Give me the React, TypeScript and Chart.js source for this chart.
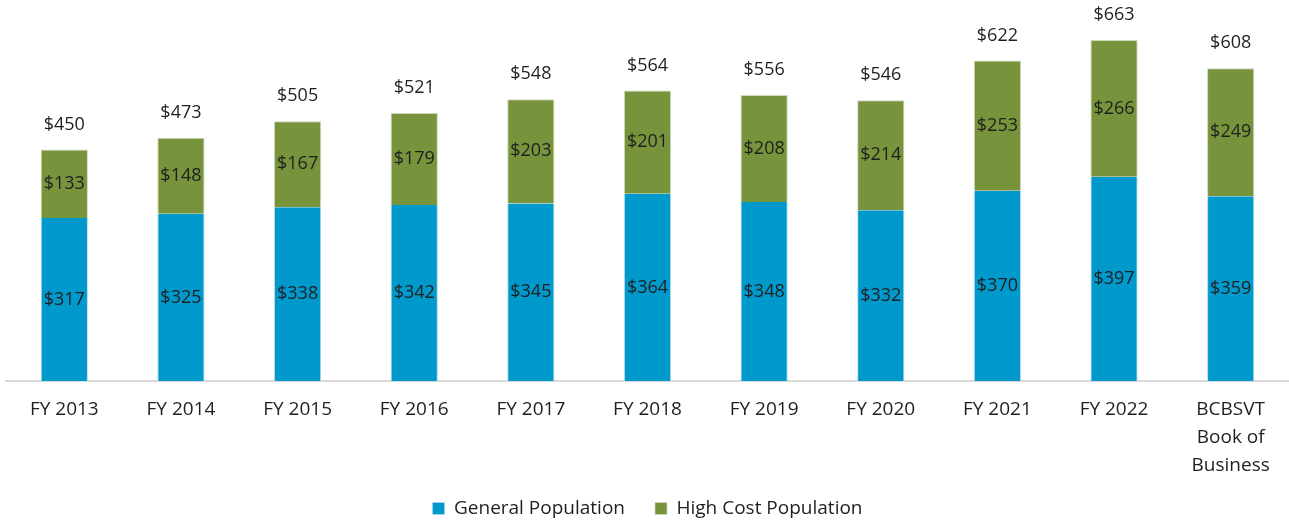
import React, { useEffect, useRef } from "react";
import { Chart, registerables } from "chart.js";

Chart.register(...registerables);

const categories: (string | string[])[] = [
  "FY 2013", "FY 2014", "FY 2015", "FY 2016", "FY 2017", "FY 2018",
  "FY 2019", "FY 2020", "FY 2021", "FY 2022", ["BCBSVT", "Book of", "Business"],
];
const generalPopulation = [317, 325, 338, 342, 345, 364, 348, 332, 370, 397, 359];
const highCostPopulation = [133, 148, 167, 179, 203, 201, 208, 214, 253, 266, 249];
const totals = [450, 473, 505, 521, 548, 564, 556, 546, 622, 663, 608];

const FONT = "'Open Sans', sans-serif";
const TEXT = "#1f1f1f";

const labelPlugin = {
  id: "barLabels",
  afterDatasetsDraw(chart: any) {
    const ctx = chart.ctx;
    ctx.save();
    ctx.font = `18px ${FONT}`;
    ctx.fillStyle = TEXT;
    ctx.textAlign = "center";
    ctx.textBaseline = "middle";
    chart.data.datasets.forEach((ds: any, di: number) => {
      const meta = chart.getDatasetMeta(di);
      meta.data.forEach((el: any, i: number) => {
        const v = ds.data[i];
        ctx.fillText(`$${v}`, el.x, (el.y + el.base) / 2);
      });
    });
    const topMeta = chart.getDatasetMeta(chart.data.datasets.length - 1);
    topMeta.data.forEach((el: any, i: number) => {
      ctx.fillText(`$${totals[i]}`, el.x, el.y - 25);
    });
    ctx.restore();
  },
};

const legendShift = {
  id: "legendShift",
  afterLayout(chart: any) {
    const lg = chart.legend;
    if (lg) {
      lg.top -= 10;
      lg.bottom -= 10;
    }
  },
};

export default function App() {
  const ref = useRef<HTMLCanvasElement>(null);
  useEffect(() => {
    const chart = new Chart(ref.current!, {
      type: "bar",
      data: {
        labels: categories,
        datasets: [
          {
            label: "General Population",
            data: generalPopulation,
            backgroundColor: "#0099CC",
            borderColor: "#b8dcec",
            borderWidth: { left: 1, right: 1, top: 0, bottom: 0 },
            categoryPercentage: 1,
            barPercentage: 0.405,
          },
          {
            label: "High Cost Population",
            data: highCostPopulation,
            backgroundColor: "#77933C",
            borderColor: "#cdd9b8",
            borderWidth: { left: 1, right: 1, top: 1, bottom: 0 },
            categoryPercentage: 1,
            barPercentage: 0.405,
          },
        ],
      },
      options: {
        animation: false,
        responsive: true,
        maintainAspectRatio: false,
        layout: { padding: { top: 21, left: 6, right: 0, bottom: -15 } },
        scales: {
          x: {
            stacked: true,
            grid: { display: false, drawTicks: false },
            border: { display: true, color: "#d9d9d9", width: 2 },
            ticks: {
              color: TEXT,
              font: { family: FONT, size: 19, lineHeight: 28 / 19 },
              padding: 15,
              maxRotation: 0,
              autoSkip: false,
            },
            afterFit: (scale: any) => {
              scale.height = 98;
            },
          },
          y: {
            stacked: true,
            display: false,
            min: 0,
            max: 700,
          },
        },
        plugins: {
          legend: {
            position: "bottom",
            labels: {
              color: TEXT,
              font: { family: FONT, size: 19 },
              boxWidth: 12,
              boxHeight: 12,
              padding: 30,
            },
          },
          tooltip: { enabled: false },
        },
      },
      plugins: [labelPlugin, legendShift],
    });
    return () => chart.destroy();
  }, []);
  return (
    <div style={{ position: "absolute", left: 0, top: 0, width: 1289, height: 523 }}>
      <canvas ref={ref} />
    </div>
  );
}
